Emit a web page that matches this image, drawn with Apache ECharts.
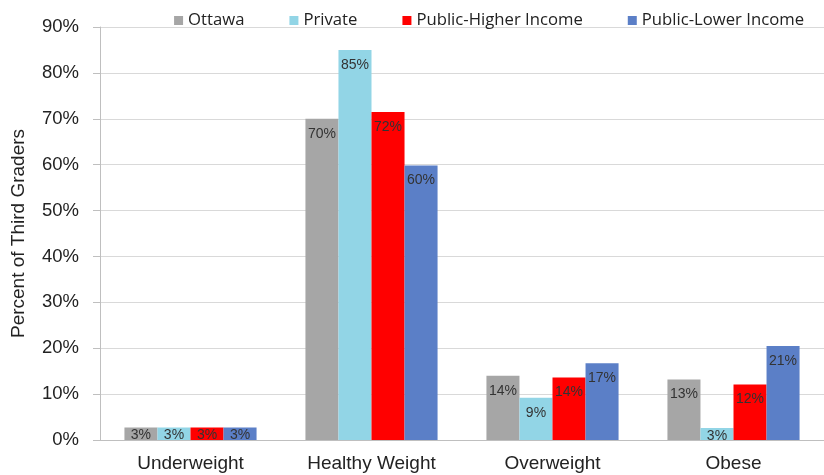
<!DOCTYPE html>
<html><head><meta charset="utf-8">
<script src="https://cdn.jsdelivr.net/npm/echarts@6/dist/echarts.min.js"></script>
<style>html,body{margin:0;padding:0;background:#fff}#c{width:824px;height:475px}</style>
</head><body><div id="c"></div>
<script>
const categories = ['Underweight', 'Healthy Weight', 'Overweight', 'Obese'];
const seriesNames = ['Ottawa', 'Private', 'Public-Higher Income', 'Public-Lower Income'];
const ottawa = [2.7, 70, 14, 13.2];
const privateSchools = [2.7, 85, 9.2, 2.6];
const publicHigher = [2.7, 71.5, 13.6, 12.1];
const publicLower = [2.7, 59.8, 16.7, 20.5];
const yTicks = [0, 10, 20, 30, 40, 50, 60, 70, 80, 90];
const colors = ['#a6a6a6', '#92d5e6', '#ff0000', '#5b7fc7'];

const values = [ottawa, privateSchools, publicHigher, publicLower];
const chart = echarts.init(document.getElementById('c'));
chart.setOption({
  animation: false,
  legend: {
    right: 15, top: 7,
    itemWidth: 9, itemHeight: 9, itemGap: 45,
    icon: 'rect',
    textStyle: { fontFamily: 'Open Sans', fontSize: 16.7, color: '#222' },
    data: seriesNames
  },
  grid: { left: 100, right: -6, top: 27, bottom: 35 },
  xAxis: {
    type: 'category', data: categories,
    axisLine: { lineStyle: { color: '#bfbfbf' } },
    axisTick: { length: 5, lineStyle: { color: '#bfbfbf' } },
    axisLabel: { fontFamily: 'Liberation Sans', fontSize: 19, color: '#222', margin: 14 }
  },
  yAxis: {
    type: 'value', min: yTicks[0], max: yTicks[yTicks.length - 1], interval: 10,
    name: 'Percent of Third Graders', nameLocation: 'middle', nameGap: 72,
    nameTextStyle: { fontFamily: 'Liberation Sans', fontSize: 19, color: '#222' },
    axisLine: { show: true, lineStyle: { color: '#bfbfbf' } },
    axisTick: { show: true, length: 7, lineStyle: { color: '#bfbfbf' } },
    splitLine: { lineStyle: { color: '#d9d9d9' } },
    axisLabel: { fontFamily: 'Liberation Sans', fontSize: 18.5, color: '#222', margin: 21, formatter: '{value}%' }
  },
  series: seriesNames.map((n, i) => ({
    name: n, type: 'bar',
    data: values[i].map(v => v < 5 ? { value: v, label: { distance: 1 } } : v),
    barGap: '0%', barCategoryGap: '27%',
    itemStyle: { color: colors[i] },
    label: {
      show: true, position: 'insideTop', distance: 8,
      fontFamily: 'Liberation Sans', fontSize: 14, color: '#333',
      formatter: p => Math.round(p.value) + '%'
    }
  }))
});
</script></body></html>
